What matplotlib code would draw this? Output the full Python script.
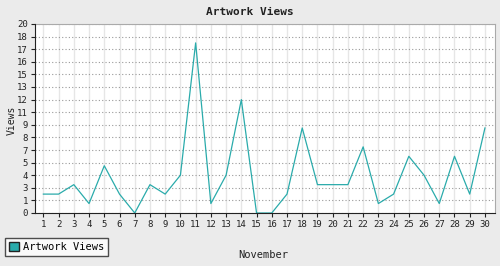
import numpy as np
import matplotlib.pyplot as plt
from matplotlib.patches import Patch

days = list(range(1, 31))
views = [2, 2, 3, 1, 5, 2, 0, 3, 2, 4, 18, 1, 4, 12, 0, 0, 2, 9, 3, 3, 3, 7, 1, 2, 6, 4, 1, 6, 2, 9]
ytick_labels = ['0', '1', '3', '4', '5', '7', '8', '9', '11', '12', '13', '15', '16', '17', '18', '20']

plt.rcParams['font.family'] = ['DejaVu Sans Mono']
teal = '#2aabab'

fig = plt.figure(figsize=(5, 2.66), dpi=100, facecolor='#ebebeb')
ax = fig.add_axes([35/500, 1 - 213/266, (495-35)/500, (213-24)/266])
ax.set_facecolor('white')

ax.plot(days, views, color=teal, lw=0.9, zorder=3)

ax.set_xlim(0.45, 30.66)
ax.set_ylim(0, 20)
ax.set_xticks(days)
ax.set_xticklabels([str(d) for d in days])
yt = np.linspace(0, 20, len(ytick_labels))
ax.set_yticks(yt)
ax.set_yticklabels(ytick_labels)
ax.tick_params(labelsize=6.5, length=3, width=0.8, colors='#222222', pad=2)

ax.grid(axis='x', color='#e6e6e6', lw=1, ls='-', zorder=0)
ax.grid(axis='y', color='#999999', lw=0.8, ls=(0, (1, 2)), zorder=0)

for s in ['top', 'right']:
    ax.spines[s].set_color('#aaaaaa')
for s in ['left', 'bottom']:
    ax.spines[s].set_color('#222222')
    ax.spines[s].set_zorder(4)

fig.text(0.5, 1 - 12/266, 'Artwork Views', ha='center', va='center',
         fontsize=8, fontweight='bold', color='#222222')
fig.text(12/500, 1 - 120/266, 'Views', ha='center', va='center',
         rotation=90, fontsize=7, color='#222222')
fig.text(263/500, 1 - 255/266, 'November', ha='center', va='center',
         fontsize=7.5, color='#222222')

leg = fig.legend(handles=[Patch(facecolor=teal, edgecolor='#222222', label='Artwork Views')],
                 loc='lower left', bbox_to_anchor=(5/500, 1 - 256/266), borderaxespad=0,
                 fontsize=7.5, frameon=True, fancybox=False, borderpad=0.35,
                 handlelength=1.0, handleheight=1.0, handletextpad=0.4)
leg.get_frame().set_edgecolor('#222222')
leg.get_frame().set_linewidth(1)

fig.savefig('out.png', dpi=100, facecolor=fig.get_facecolor())
